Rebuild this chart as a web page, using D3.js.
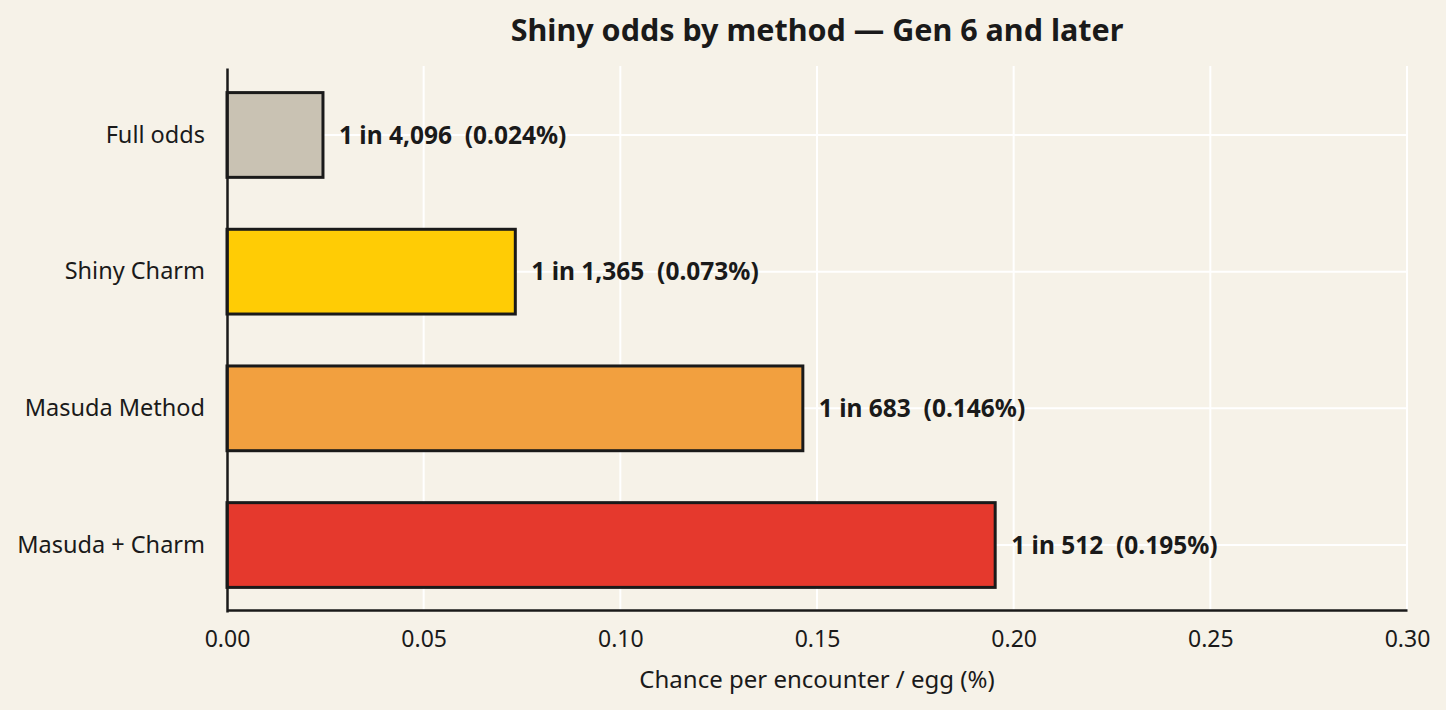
<!DOCTYPE html>
<html lang="en">
  <head>
    <meta charset="utf-8">
    <title>Shiny odds by method</title>
    <script src="https://d3js.org/d3.v7.min.js"></script>
    <style>
      body { margin: 0; background: #f6f2e8; font-family: 'Noto Sans', sans-serif; }
      svg text { fill: #1a1a1a; font-family: 'Noto Sans', sans-serif; }
    </style>
  </head>
  <body>
    <div id="chart"></div>
    <script>
      // data
      var methods = ['Full odds', 'Shiny Charm', 'Masuda Method', 'Masuda + Charm']
      var oneIn = [4096, 1365, 683, 512]
      var chance = [0.0244, 0.0733, 0.1464, 0.1953]
      var pctText = ['0.024%', '0.073%', '0.146%', '0.195%']
      var barColors = ['#c9c2b3', '#ffcc05', '#f2a03f', '#e5392d']
      var xTicks = [0, 0.05, 0.10, 0.15, 0.20, 0.25, 0.30]

      var W = 1446, H = 710
      var m = {left: 227, right: 39, top: 66, bottom: 100}

      var svg = d3.select('#chart').append('svg')
        .attr('width', W).attr('height', H)

      svg.append('rect').attr('width', W).attr('height', H).attr('fill', '#f6f2e8')

      var x = d3.scaleLinear().domain([0, 0.30]).range([m.left, W - m.right])
      // band range nudged 2px down so bars sit like the original
      var y = d3.scaleBand().domain(methods).range([m.top + 2, H - m.bottom + 2])
        .paddingInner(0.38).paddingOuter(0.18)

      // grid
      svg.append('g').selectAll('line').data(xTicks.slice(1)).enter().append('line')
        .attr('x1', function(d){ return x(d) }).attr('x2', function(d){ return x(d) })
        .attr('y1', m.top).attr('y2', H - m.bottom)
        .attr('stroke', '#ffffff').attr('stroke-width', 2)

      svg.append('g').selectAll('line').data(methods).enter().append('line')
        .attr('x1', m.left).attr('x2', W - m.right)
        .attr('y1', function(d){ return y(d) + y.bandwidth()/2 })
        .attr('y2', function(d){ return y(d) + y.bandwidth()/2 })
        .attr('stroke', '#ffffff').attr('stroke-width', 2)

      // bars
      svg.append('g').selectAll('rect').data(methods).enter().append('rect')
        .attr('x', x(0))
        .attr('y', function(d){ return y(d) })
        .attr('width', function(d, i){ return x(chance[i]) - x(0) })
        .attr('height', y.bandwidth())
        .attr('fill', function(d, i){ return barColors[i] })
        .attr('stroke', '#1a1a1a').attr('stroke-width', 3)

      // value labels
      svg.append('g').selectAll('text').data(methods).enter().append('text')
        .attr('x', function(d, i){ return x(chance[i]) + 16 })
        .attr('y', function(d){ return y(d) + y.bandwidth()/2 })
        .attr('dy', '0.35em')
        .attr('font-size', 24.5).attr('font-weight', 'bold')
        .text(function(d, i){ return '1 in ' + d3.format(',')(oneIn[i]) + '\u00a0\u00a0(' + pctText[i] + ')' })

      // axes
      var xAxis = d3.axisBottom(x).tickValues(xTicks).tickFormat(d3.format('.2f')).tickSize(0).tickPadding(21)
      var gx = svg.append('g').attr('transform', 'translate(0,' + (H - m.bottom) + ')').call(xAxis)
      gx.select('.domain').attr('stroke', '#1a1a1a').attr('stroke-width', 2.5)
      gx.selectAll('text').attr('font-size', 23).attr('font-family', "'Noto Sans', sans-serif")

      var yAxis = d3.axisLeft(y).tickSize(0).tickPadding(22)
      var gy = svg.append('g').attr('transform', 'translate(' + m.left + ',0)').call(yAxis)
      gy.select('.domain').attr('stroke', '#1a1a1a').attr('stroke-width', 2.5)
      gy.selectAll('text').attr('font-size', 23.5).attr('font-family', "'Noto Sans', sans-serif")

      // titles
      svg.append('text')
        .attr('x', (m.left + W - m.right)/2).attr('y', 41)
        .attr('text-anchor', 'middle')
        .attr('font-size', 30.5).attr('font-weight', 'bold')
        .text('Shiny odds by method — Gen 6 and later')

      svg.append('text')
        .attr('x', (m.left + W - m.right)/2).attr('y', 688)
        .attr('text-anchor', 'middle')
        .attr('font-size', 24).attr('fill', '#333')
        .text('Chance per encounter / egg (%)')
    </script>
  </body>
</html>
